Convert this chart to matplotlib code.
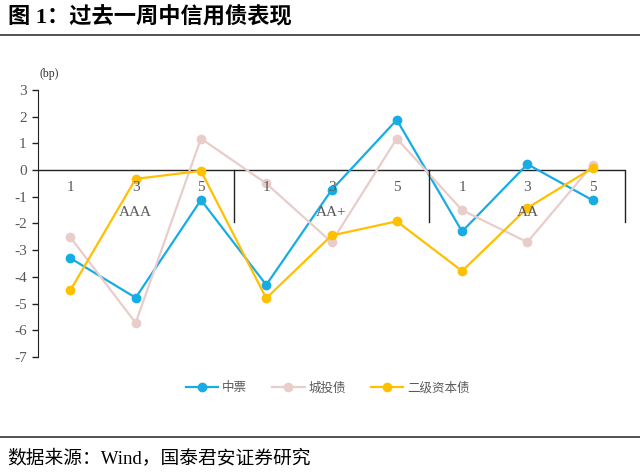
import matplotlib.pyplot as plt
import matplotlib.lines as mlines

plt.rcParams["font.family"] = ["Noto Sans CJK SC", "DejaVu Sans"]
plt.rcParams["axes.unicode_minus"] = False

groups = ["AAA", "AA+", "AA"]
tenors = ["1", "3", "5"]
zhongpiao = [-3.3, -4.78, -1.12, -4.3, -0.75, 1.88, -2.3, 0.22, -1.13]
chengtou = [-2.52, -5.72, 1.18, -0.5, -2.7, 1.18, -1.5, -2.7, 0.2]
erji = [-4.5, -0.33, -0.03, -4.8, -2.45, -1.92, -3.78, -1.42, 0.08]

series = [
    ("中票", zhongpiao, "#17ACE3"),
    ("城投债", chengtou, "#E8CDCB"),
    ("二级资本债", erji, "#FFC000"),
]

serif = ["Liberation Serif", "DejaVu Serif"]
mixed = ["Liberation Serif", "Noto Sans CJK SC"]
grey = "#595959"

fig = plt.figure(figsize=(6.4, 4.76), dpi=100)
ax = fig.add_axes([0.059, 0.25, 0.918, 0.561])

x = list(range(len(groups) * len(tenors)))
for name, vals, color in series:
    ax.plot(x, vals, color=color, linewidth=1.6, marker="o", markersize=6, label=name)

ax.set_xlim(-0.5, len(x) - 0.5)
ax.set_ylim(-7, 3)
ax.set_yticks(range(-7, 4))
ax.set_yticklabels([str(v) for v in range(-7, 4)], family=serif, fontsize=11, color=grey)
ax.tick_params(axis="y", direction="out", length=4, width=1, color="#222222", pad=4)
ax.set_xticks([])
for s in ["top", "right", "bottom"]:
    ax.spines[s].set_visible(False)
ax.spines["left"].set_color("#222222")
ax.axhline(0, color="#222222", linewidth=1, zorder=1)

# category axis labels drawn under the zero line
for i in x:
    ax.text(i, -0.67, tenors[i % len(tenors)], ha="center", va="center",
            family=serif, fontsize=11, color=grey)
for g, name in enumerate(groups):
    ax.text(g * len(tenors) + 1, -1.6, name, ha="center", va="center",
            family=serif, fontsize=11, color=grey)
    sep = (g + 1) * len(tenors) - 0.5
    ax.plot([sep, sep], [0, -1.95], color="#222222", linewidth=1, clip_on=False)

ax.text(-0.47, 3.6, "(bp)", family=serif, fontsize=8.5, color="#333333", ha="left", va="center")

leg = fig.legend(loc="center", bbox_to_anchor=(0.512, 0.185), ncol=3, frameon=False,
                 fontsize=9, handlelength=2.6, columnspacing=2.0, handletextpad=0.3)
for t in leg.get_texts():
    t.set_color(grey)

fig.text(0.012, 0.963, "图 1：过去一周中信用债表现", fontsize=16, fontweight="bold",
         va="center", ha="left", family=mixed)
fig.add_artist(mlines.Line2D([0, 1], [0.927, 0.927], color="#333333", linewidth=1.2))
fig.add_artist(mlines.Line2D([0, 1], [0.082, 0.082], color="#333333", linewidth=1.2))
fig.text(0.012, 0.037, "数据来源：Wind，国泰君安证券研究", fontsize=13.5, va="center", ha="left",
         family=mixed)

fig.savefig("out.png", dpi=100)
